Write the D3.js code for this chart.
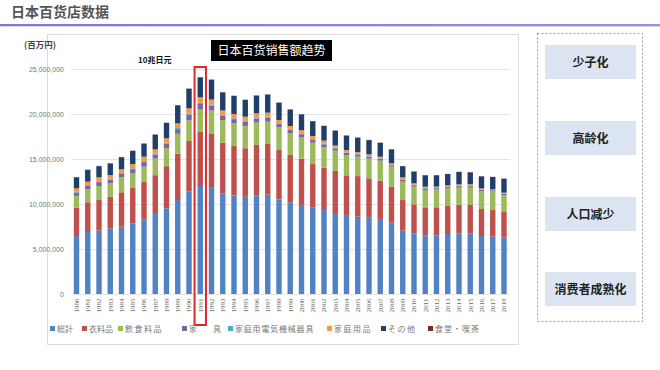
<!DOCTYPE html>
<html><head><meta charset="utf-8">
<script src="https://cdn.jsdelivr.net/npm/d3@7/dist/d3.min.js"></script>
<style>
html,body{margin:0;padding:0;background:#fff;}
svg{display:block;font-family:"Noto Sans CJK SC","Noto Sans",sans-serif;}
</style></head>
<body><svg id="c" width="660" height="370"></svg>
<script>
// ---- data (百万円, values given in millions of 百万円) ----
const UNIT = 1e6;
const years = d3.range(1980, 2019).map(String);
const yTicks = [0, 5000000, 10000000, 15000000, 20000000, 25000000];
const seriesNames = ["総計","衣料品","飲食料品","家　具","家庭用電気機械器具","家庭用品","その他","食堂・喫茶"];
const sokei = [6.44,6.89,7.04,7.30,7.48,7.85,8.30,8.90,9.52,10.44,11.37,12.00,11.80,11.19,10.96,10.80,10.96,11.04,10.50,10.20,9.90,9.60,9.33,9.00,8.78,8.60,8.48,8.33,7.93,7.04,6.74,6.52,6.52,6.67,6.74,6.74,6.44,6.37,6.30];
const iryo = [3.16,3.31,3.46,3.50,3.82,4.00,4.20,4.30,4.68,5.16,5.63,6.00,6.05,5.61,5.48,5.40,5.60,5.63,5.50,5.24,5.14,4.84,4.71,4.67,4.41,4.50,4.37,4.26,4.00,3.40,3.22,3.11,3.11,3.11,3.19,3.15,3.00,2.96,2.81];
const inshoku = [1.30,1.43,1.50,1.50,1.67,1.55,1.65,1.84,2.00,2.20,2.30,2.50,2.55,2.53,2.52,2.47,2.48,2.48,2.52,2.41,2.36,2.37,2.26,2.26,2.25,2.16,2.19,2.22,2.22,2.04,1.97,1.93,2.00,1.96,1.88,1.92,2.00,2.11,1.89];
const kagu = [0.38,0.38,0.43,0.41,0.40,0.47,0.50,0.46,0.50,0.52,0.60,0.61,0.54,0.48,0.47,0.46,0.46,0.45,0.36,0.37,0.36,0.34,0.33,0.25,0.25,0.23,0.21,0.20,0.16,0.21,0.16,0.16,0.13,0.14,0.17,0.17,0.13,0.08,0.11];
const denki = [0.08,0.09,0.10,0.10,0.08,0.10,0.11,0.11,0.10,0.12,0.13,0.13,0.12,0.11,0.10,0.11,0.11,0.10,0.09,0.08,0.08,0.07,0.08,0.07,0.06,0.06,0.06,0.05,0.05,0.06,0.05,0.05,0.04,0.05,0.04,0.04,0.04,0.03,0.04];
const katei = [0.38,0.38,0.43,0.41,0.40,0.47,0.50,0.46,0.50,0.52,0.60,0.61,0.54,0.48,0.47,0.46,0.46,0.45,0.36,0.37,0.36,0.34,0.33,0.25,0.25,0.23,0.21,0.20,0.16,0.21,0.16,0.16,0.13,0.14,0.17,0.17,0.13,0.08,0.11];
const sonota = [1.23,1.30,1.24,1.28,1.35,1.46,1.44,1.63,1.70,2.00,2.17,2.22,2.20,2.00,2.00,1.86,1.97,2.00,1.93,1.83,1.76,1.64,1.63,1.65,1.60,1.59,1.58,1.54,1.55,1.24,1.30,1.26,1.26,1.26,1.37,1.33,1.33,1.37,1.55];
const shokudo = [0.03,0.03,0.03,0.03,0.03,0.03,0.03,0.03,0.03,0.03,0.03,0.03,0.03,0.03,0.03,0.03,0.03,0.03,0.02,0.02,0.02,0.02,0.02,0.02,0.02,0.02,0.02,0.02,0.02,0.02,0.02,0.02,0.02,0.02,0.02,0.02,0.02,0.02,0.02];
const highlightYear = "1991";
const sideItems = ["少子化","高龄化","人口减少","消费者成熟化"];

const colors = ["#5183c4","#c0504d","#9bbb59","#8064a2","#4bacc6","#f79646","#1f3f6a","#772c2a"];
const allSeries = [sokei, iryo, inshoku, kagu, denki, katei, sonota, shokudo];
const table = years.map((y,i)=>{const o={year:y}; seriesNames.forEach((n,k)=>o[n]=allSeries[k][i]*UNIT); return o;});

const svg = d3.select("#c");

// page header
svg.append("text").attr("x",11).attr("y",17).attr("font-size",14).attr("font-weight","bold")
  .attr("fill","#555").text("日本百货店数据");
const grad = svg.append("defs").append("linearGradient").attr("id","pl");
grad.append("stop").attr("offset","0%").attr("stop-color","#8378c8");
grad.append("stop").attr("offset","100%").attr("stop-color","#9a8fd8");
svg.append("rect").attr("x",0).attr("y",24).attr("width",660).attr("height",2).attr("fill","url(#pl)");
svg.append("rect").attr("x",0).attr("y",26).attr("width",660).attr("height",1).attr("fill","#d8d4ef");

// chart panel
svg.append("rect").attr("x",47.5).attr("y",34.5).attr("width",471).attr("height",310)
  .attr("fill","#fff").attr("stroke","#dcdcdc");

const x = d3.scaleBand().domain(years).range([71,509.5]).paddingInner(0.52).paddingOuter(0.25);
const y = d3.scaleLinear().domain([0,25000000]).range([294,69]);

// gridlines
svg.append("g").selectAll("line").data(yTicks).join("line")
  .attr("x1",71).attr("x2",510).attr("y1",d=>y(d)+0.5).attr("y2",d=>y(d)+0.5)
  .attr("stroke","#e4e4e4");

// y axis
const yAxis = svg.append("g").attr("transform","translate(64,0)")
  .call(d3.axisLeft(y).tickValues(yTicks).tickSize(0).tickPadding(0).tickFormat(d3.format(",")));
yAxis.select(".domain").remove();
yAxis.selectAll("text").attr("font-size",7).attr("fill","#777").attr("font-family","'Liberation Sans',Arial,sans-serif");

// x axis
const xAxis = svg.append("g").attr("transform","translate(0,297)")
  .call(d3.axisBottom(x).tickSize(0).tickPadding(0));
xAxis.select(".domain").remove();
xAxis.selectAll("text").attr("font-size",7).attr("fill","#666")
  .attr("font-family","'Liberation Serif','DejaVu Serif',serif")
  .attr("text-anchor","end").attr("dx","-0.2em").attr("dy","0.35em")
  .attr("x",0).attr("y",0).attr("transform","rotate(-90)");

// bars
const stacked = d3.stack().keys(seriesNames)(table);
svg.append("g").selectAll("g").data(stacked).join("g").attr("fill",(d,i)=>colors[i])
  .selectAll("rect").data(d=>d).join("rect")
  .attr("x",d=>x(d.data.year)).attr("width",x.bandwidth())
  .attr("y",d=>y(d[1])).attr("height",d=>Math.max(0,y(d[0])-y(d[1])));

// highlight box
svg.append("rect").attr("x",x(highlightYear)-3).attr("width",x.bandwidth()+6)
  .attr("y",67).attr("height",258).attr("fill","none").attr("stroke","#e0282b").attr("stroke-width",2);

// annotations
svg.append("text").attr("x",24).attr("y",48).attr("font-size",8.5).attr("font-weight","bold")
  .attr("fill","#444").text("(百万円)");
svg.append("text").attr("x",138).attr("y",63).attr("font-size",8).attr("font-weight","bold")
  .attr("fill","#111").text("10兆日元");
svg.append("rect").attr("x",211).attr("y",40).attr("width",121).attr("height",21).attr("fill","#000");
svg.append("text").attr("x",271.5).attr("y",55).attr("text-anchor","middle").attr("font-size",12)
  .attr("fill","#fff").text("日本百货销售额趋势");

// legend
const legX = [50,82,118,182,228,327,381,428];
const lg = svg.append("g").selectAll("g").data(seriesNames).join("g")
  .attr("transform",(d,i)=>`translate(${legX[i]},329)`);
lg.append("rect").attr("x",0).attr("y",-3).attr("width",5).attr("height",5).attr("fill",(d,i)=>colors[i]);
lg.append("text").attr("x",7).attr("y",2.5).attr("font-size",8).attr("fill","#777")
  .attr("font-family","'Noto Sans CJK JP',sans-serif")
  .attr("letter-spacing",(d,i)=>[0,0,1.5,0,0.8,1.5,1.5,1][i])
  .text(d=>d==="家　具"?"家　　具":d);

// side panel
svg.append("rect").attr("x",537.5).attr("y",33.5).attr("width",105).attr("height",288)
  .attr("fill","none").attr("stroke","#999").attr("stroke-dasharray","2,2");
const sideY = [45,121,197,272];
const sg = svg.append("g").selectAll("g").data(sideItems).join("g");
sg.append("rect").attr("x",545).attr("y",(d,i)=>sideY[i]).attr("width",91).attr("height",34).attr("fill","#dde4f1");
sg.append("text").attr("x",590.5).attr("y",(d,i)=>sideY[i]+21.5).attr("text-anchor","middle")
  .attr("font-size",12).attr("font-weight","bold").attr("fill","#222").text(d=>d);
</script></body></html>
